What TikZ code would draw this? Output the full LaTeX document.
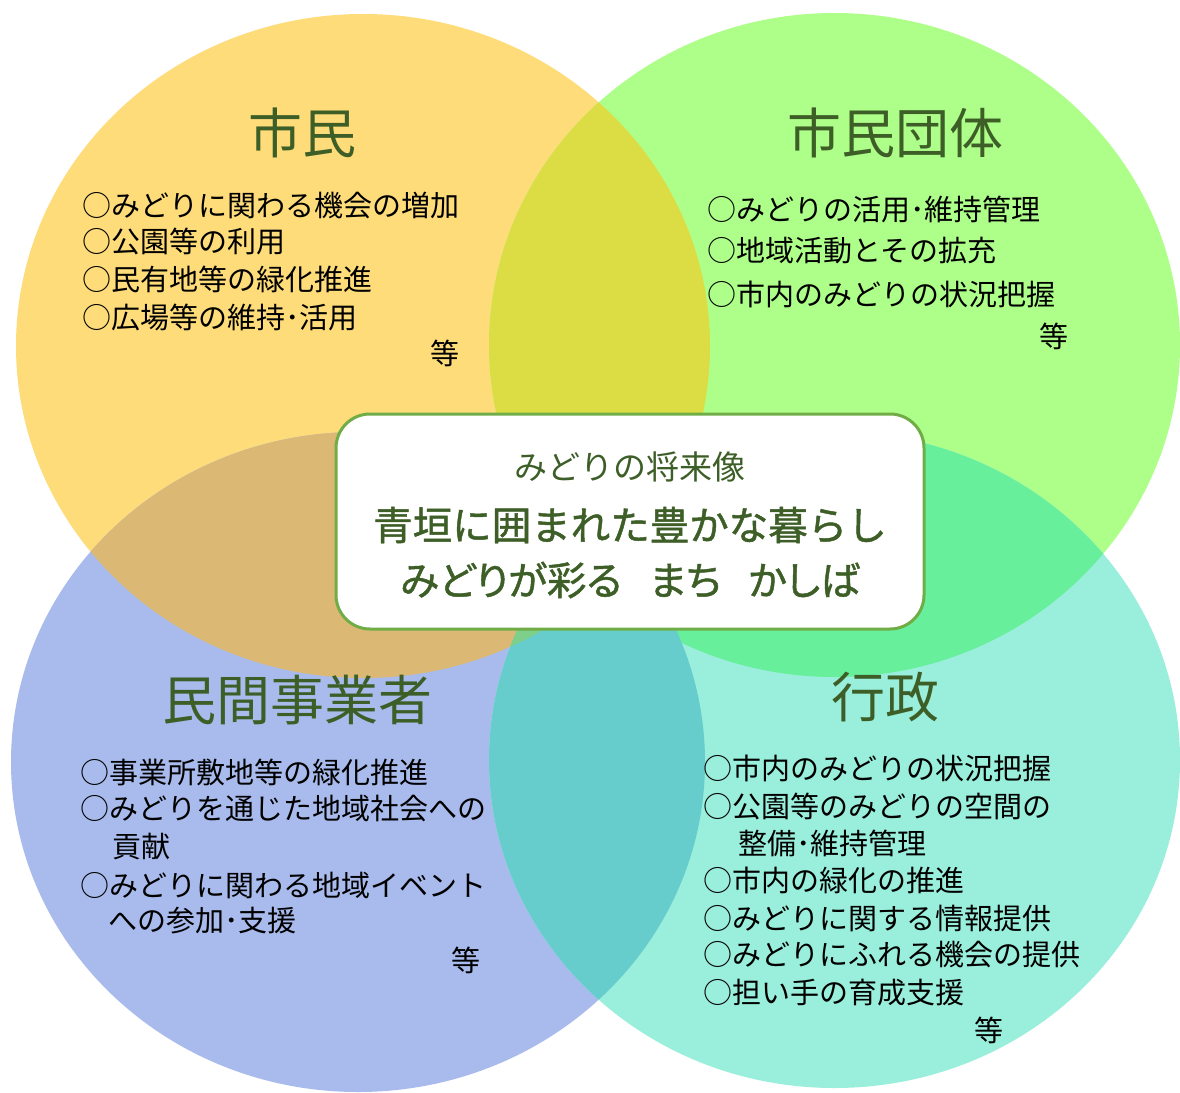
\documentclass[tikz,border=0pt]{standalone}
\usepackage{fontspec}
\setmainfont{Noto Sans CJK JP}
\newfontfamily\jpmed[FakeBold=1.2]{Noto Sans CJK JP}
\newfontfamily\jpmedp[FakeBold=1.2,CharacterWidth=AlternateProportional]{Noto Sans CJK JP}
\definecolor{cY}{RGB}{254,220,122}
\definecolor{cG}{RGB}{173,255,137}
\definecolor{cB}{RGB}{168,187,236}
\definecolor{cT}{RGB}{154,238,220}
\definecolor{cYG}{RGB}{220,221,68}
\definecolor{cYB}{RGB}{219,185,117}
\definecolor{cGT}{RGB}{104,239,155}
\definecolor{cBT}{RGB}{102,205,204}
\definecolor{cYBT}{RGB}{125,207,138}
\definecolor{titlegreen}{RGB}{61,95,39}
\definecolor{boxgreen}{RGB}{112,173,71}
\tikzset{
  item/.style={anchor=west, inner sep=0pt, font=\fontsize{29pt}{34pt}\selectfont, text=black},
  etc/.style={anchor=east, inner sep=0pt, font=\fontsize{29pt}{34pt}\selectfont, text=black},
  title/.style={inner sep=0pt, font=\fontsize{54pt}{60pt}\selectfont, text=titlegreen},
  vision/.style={draw=boxgreen, line width=3pt, fill=white, rounded corners=34pt, minimum width=588pt, minimum height=215pt, inner sep=0pt},
  vsub/.style={inner sep=0pt, font=\fontsize{33pt}{38pt}\selectfont, text=titlegreen},
  vmain/.style={inner sep=0pt, font=\jpmed\fontsize{39.5pt}{44pt}\selectfont, text=titlegreen},
  vmainp/.style={inner sep=0pt, font=\jpmedp\fontsize{39.5pt}{44pt}\selectfont, text=titlegreen}
}
\def\Yell{(363,346) ellipse [x radius=347pt, y radius=332pt]}
\def\Gree{(834.5,345) ellipse [x radius=345.5pt, y radius=332pt]}
\def\Blue{(358,762) ellipse [x radius=347pt, y radius=330pt]}
\def\Teal{(834.5,760) ellipse [x radius=345.5pt, y radius=328pt]}
\begin{document}
\begin{tikzpicture}[x=1pt,y=-1pt]
\useasboundingbox (0,0) rectangle (1180,1092);
\fill[white] (0,0) rectangle (1180,1092);
% circles
\fill[cY] \Yell;
\fill[cG] \Gree;
\fill[cB] \Blue;
\fill[cT] \Teal;
\begin{scope}\clip \Yell; \fill[cYG] \Gree; \end{scope}
\begin{scope}\clip \Yell; \fill[cYB] \Blue; \end{scope}
\begin{scope}\clip \Gree; \fill[cGT] \Teal; \end{scope}
\begin{scope}\clip \Blue; \fill[cBT] \Teal; \end{scope}
\begin{scope}\clip \Yell; \clip \Blue; \fill[cYBT] \Teal; \end{scope}
% titles
\node[title] (t1) at (302,133) {市民};
\node[title] (t2) at (895,133) {市民団体};
\node[title] (t3) at (297,700) {民間事業者};
\node[title] (t4) at (885,697) {行政};
% citizens
\node[item] (a1) at (82,205) {○みどりに関わる機会の増加};
\node[item] (a2) at (82,241) {○公園等の利用};
\node[item] (a3) at (82,279) {○民有地等の緑化推進};
\node[item] (a4) at (82,317) {○広場等の維持･活用};
\node[etc] (a5) at (460,353) {等};
% citizen groups
\node[item] (b1) at (707,209) {○みどりの活用･維持管理};
\node[item] (b2) at (707,251) {○地域活動とその拡充};
\node[item] (b3) at (707,294) {○市内のみどりの状況把握};
\node[etc] (b4) at (1069,336) {等};
% businesses
\node[item] (c1) at (80,772) {○事業所敷地等の緑化推進};
\node[item] (c2) at (80,809) {○みどりを通じた地域社会への};
\node[item] (c3) at (112,847) {貢献};
\node[item] (c4) at (80,885) {○みどりに関わる地域イベント};
\node[item] (c5) at (108,921) {への参加･支援};
\node[etc] (c6) at (481,960) {等};
% administration
\node[item] (d1) at (703,768) {○市内のみどりの状況把握};
\node[item] (d2) at (703,806) {○公園等のみどりの空間の};
\node[item] (d3) at (738,843) {整備･維持管理};
\node[item] (d4) at (703,880) {○市内の緑化の推進};
\node[item] (d5) at (703,918) {○みどりに関する情報提供};
\node[item] (d6) at (703,955) {○みどりにふれる機会の提供};
\node[item] (d7) at (703,993) {○担い手の育成支援};
\node[etc] (d8) at (1004,1030) {等};
% vision box
\node[vision] (box) at (630,521.5) {};
\node[vsub] (v1) at (630,467) {みどりの将来像};
\node[vmain] (v2) at (630,525) {青垣に囲まれた豊かな暮らし};
\node[vmainp] (v3) at (630,580) {みどりが彩る\hspace{0.7em}まち\hspace{0.7em}かしば};
\end{tikzpicture}
\end{document}
